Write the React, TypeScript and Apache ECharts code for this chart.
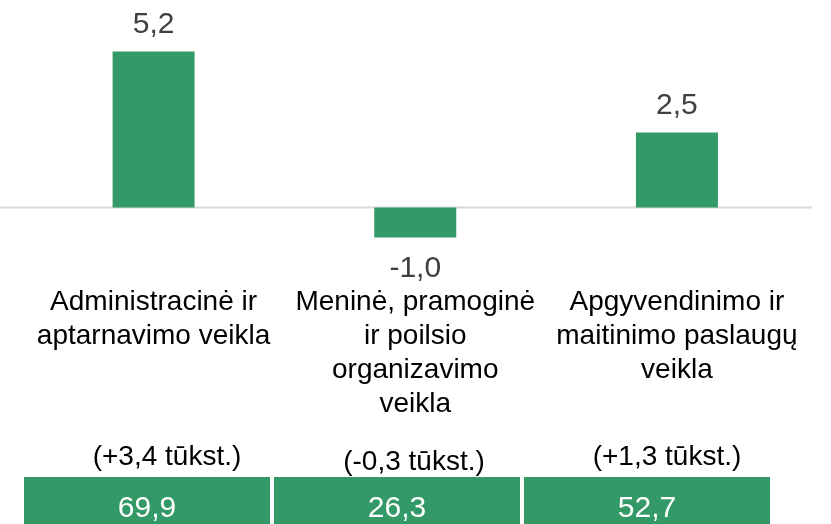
import React, { useEffect, useRef } from "react";
import * as echarts from "echarts";

const categories = [
  "Administracinė ir\naptarnavimo veikla",
  "Meninė, pramoginė\nir poilsio\norganizavimo\nveikla",
  "Apgyvendinimo ir\nmaitinimo paslaugų\nveikla",
];
const changeValues = [5.2, -1.0, 2.5];
const changeLabels = ["(+3,4 tūkst.)", "(-0,3 tūkst.)", "(+1,3 tūkst.)"];
const totalValues = [69.9, 26.3, 52.7];

const FONT = "'Liberation Sans', Arial, sans-serif";
const GREEN = "#339966";
const W = 831;
const H = 524;

const fmt = (v: number) => v.toFixed(1).replace(".", ",");

export default function App() {
  const ref = useRef<HTMLDivElement>(null);
  useEffect(() => {
    if (!ref.current) return;
    const chart = echarts.init(ref.current, null, { renderer: "svg" });
    chart.setOption({
      animation: false,
      grid: [
        { left: 22.75, right: 23.25, top: 27.5, bottom: 256.5 },
        { left: 22, right: 59, top: 475, bottom: 0 },
      ],
      xAxis: [
        {
          gridIndex: 0,
          type: "category",
          data: categories,
          position: "bottom",
          axisLine: { show: false, onZero: false },
          axisTick: { show: false },
          axisLabel: {
            interval: 0,
            fontSize: 28,
            lineHeight: 34,
            color: "#000",
            margin: 16,
            fontFamily: FONT,
          },
        },
        {
          gridIndex: 1,
          type: "category",
          data: changeLabels.map((t, i) => ({
            value: t,
            textStyle: { padding: i === 1 ? [0, 0, 0, 34] : [0, 0, 5, 40] },
          })),
          position: "top",
          axisLine: { show: false },
          axisTick: { show: false },
          axisLabel: {
            interval: 0,
            fontSize: 28,
            color: "#000",
            margin: 1,
            fontFamily: FONT,
          },
        },
      ],
      yAxis: [
        { gridIndex: 0, type: "value", min: -2, max: 6, show: false },
        { gridIndex: 1, type: "category", data: [""], show: false },
      ],
      series: [
        {
          type: "bar",
          xAxisIndex: 0,
          yAxisIndex: 0,
          barWidth: 82,
          itemStyle: { color: GREEN },
          data: changeValues.map((v) => ({
            value: v,
            label: { position: v >= 0 ? "top" : "bottom" },
          })),
          label: {
            show: true,
            distance: 14,
            fontSize: 30,
            color: "#404040",
            fontFamily: FONT,
            formatter: (p: any) => fmt(p.value),
          },
        },
        {
          type: "custom",
          xAxisIndex: 1,
          yAxisIndex: 1,
          data: totalValues.map((v, i) => [i, 0, v]),
          renderItem: (params: any, api: any) => {
            const c = api.coord([api.value(0), 0]);
            const s = api.size([1, 0]);
            const cs = params.coordSys;
            return {
              type: "group",
              children: [
                {
                  type: "rect",
                  shape: {
                    x: c[0] - s[0] / 2 + 2,
                    y: cs.y + 2,
                    width: s[0] - 4,
                    height: cs.height + 20,
                  },
                  style: { fill: GREEN },
                },
                {
                  type: "text",
                  style: {
                    text: fmt(api.value(2)),
                    x: c[0],
                    y: cs.y + 31,
                    align: "center",
                    verticalAlign: "middle",
                    fill: "#fff",
                    fontSize: 30,
                    fontFamily: FONT,
                  },
                },
              ],
            };
          },
        },
      ],
    });
    const zeroY = chart.convertToPixel({ yAxisIndex: 0 } as any, 0) as number;
    chart.setOption({
      graphic: [
        {
          type: "line",
          z: 1,
          shape: { x1: 0, y1: zeroY, x2: 812, y2: zeroY },
          style: { stroke: "#d9d9d9", lineWidth: 2 },
        },
      ],
    });
    return () => chart.dispose();
  }, []);
  return (
    <div
      ref={ref}
      style={{ position: "fixed", left: 0, top: 0, width: W, height: H }}
    />
  );
}
